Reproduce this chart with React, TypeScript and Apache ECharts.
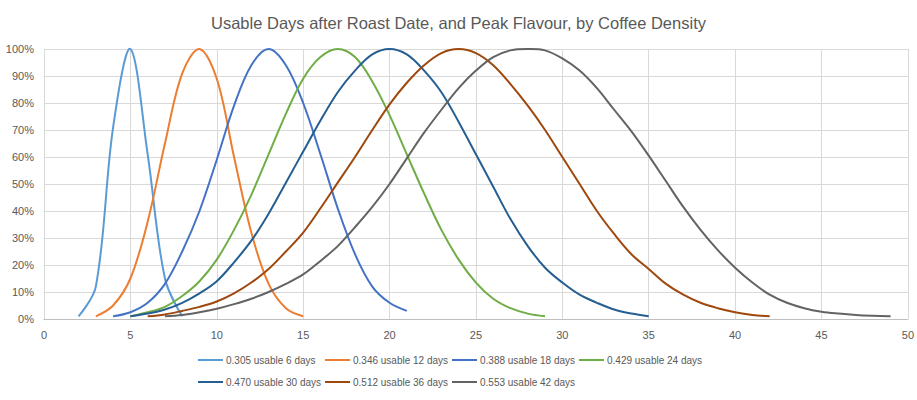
import React, { useEffect, useRef } from "react";
import * as echarts from "echarts";

// Series names (legend)
const seriesNames = [
  "0.305 usable 6 days",
  "0.346 usable 12 days",
  "0.388 usable 18 days",
  "0.429 usable 24 days",
  "0.470 usable 30 days",
  "0.512 usable 36 days",
  "0.553 usable 42 days",
];

// First day of each series (consecutive integer days follow)
const startDays = [2, 3, 4, 5, 5, 6, 7];

// Flavour values (%), one per day
const d305 = [1, 12, 71, 100, 61, 15, 1];
const d346 = [1, 5, 15, 36, 65, 91, 100, 89, 60, 32, 13, 4, 1];
const d388 = [1, 2.5, 6, 13, 25, 40, 59, 79, 94, 100, 94, 80, 61, 41, 24, 12, 6, 3];
const d429 = [1, 2.5, 4.5, 8.5, 14, 22, 33, 46, 61, 76, 89, 97, 100, 97, 88, 75.5, 61, 46.5, 33, 22, 13.5, 7.5, 4, 2, 1];
const d470 = [1, 2, 3.5, 6, 9.5, 14, 21, 29, 39, 50.5, 62, 73.5, 84, 92, 98, 100, 98, 92, 84, 73, 61, 49, 37, 27, 19, 13.5, 9, 6, 3.5, 2, 1];
const d512 = [
  1, 1.7, 3, 4.5, 6.5, 9.5, 13.5, 18.5, 25, 32, 41, 50.5, 60, 70, 79.5, 87.5, 94, 98.5, 100,
  98.5, 94, 87, 79, 70, 60, 50, 40, 31.5, 24, 18.5, 13, 9, 6, 4, 2.5, 1.5, 1,
];
const d553 = [
  1, 1.5, 2.5, 3.8, 5.5, 7.5, 10, 13, 16.5, 21.5, 27, 34, 41.5, 50, 59.5, 69, 77.5, 85.5, 92, 97, 99.5, 100,
  99.5, 96.5, 92, 85.5, 77.5, 69.5, 60.5, 51, 41.5, 33, 25.5, 19, 13.5, 9, 6, 4, 2.7, 2, 1.5, 1.2, 1,
];
const allValues = [d305, d346, d388, d429, d470, d512, d553];

// Axis ticks
const xMin = 0;
const xMax = 50;
const xStep = 5;
const yMin = 0;
const yMax = 100;
const yStep = 10;

const colors = ["#5B9BD5", "#ED7D31", "#4472C4", "#70AD47", "#255E91", "#9E480E", "#636363"];
const legendLefts = [198, 325, 452, 579, 198, 325, 452];
const legendTops = [355, 355, 355, 355, 377, 377, 377];

const FONT = "'Liberation Sans', Arial, sans-serif";
const TEXT = "#595959";

export default function App() {
  const ref = useRef<HTMLDivElement>(null);

  useEffect(() => {
    document.body.style.margin = "0";
    if (!ref.current) return;
    const chart = echarts.init(ref.current, undefined, { renderer: "svg" });

    const series = allValues.map((vals, i) => ({
      name: seriesNames[i],
      type: "custom",
      coordinateSystem: "cartesian2d",
      data: [[startDays[i], vals[0]]],
      encode: { x: 0, y: 1 },
      itemStyle: { color: colors[i] },
      silent: true,
      renderItem: (_params: any, api: any) => {
        const pts = vals.map((v, k) => api.coord([startDays[i] + k, v]));
        return {
          type: "polyline",
          shape: { points: pts, smooth: 0.35 },
          style: { stroke: colors[i], lineWidth: 2, fill: null },
        };
      },
    }));

    const legends = seriesNames.map((n, i) => ({
      data: [n],
      left: legendLefts[i],
      top: legendTops[i],
      padding: 0,
      icon: "rect",
      itemWidth: 25,
      itemHeight: 2,
      selectedMode: false,
      textStyle: { color: TEXT, fontSize: 10, fontFamily: FONT, padding: [0, 0, 0, -2] },
    }));

    chart.setOption({
      animation: false,
      color: colors,
      title: {
        text: "Usable Days after Roast Date, and Peak Flavour, by Coffee Density",
        left: "center",
        top: 14,
        padding: [0, 0, 0, 7],
        textStyle: { color: TEXT, fontSize: 16.5, fontWeight: "normal", fontFamily: FONT },
      },
      legend: legends,
      grid: { left: 44, right: 9, top: 49, bottom: 81, containLabel: false },
      xAxis: {
        type: "value",
        min: xMin,
        max: xMax,
        interval: xStep,
        axisLine: { show: true, lineStyle: { color: "#BFBFBF", width: 1 } },
        axisTick: { show: false },
        axisLabel: { color: TEXT, fontSize: 11, fontFamily: FONT, margin: 10 },
        splitLine: { show: true, lineStyle: { color: "#D9D9D9", width: 1 } },
      },
      yAxis: {
        type: "value",
        min: yMin,
        max: yMax,
        interval: yStep,
        axisLine: { show: false },
        axisTick: { show: false },
        axisLabel: { color: TEXT, fontSize: 11, fontFamily: FONT, margin: 10, formatter: "{value}%" },
        splitLine: { show: true, lineStyle: { color: "#D9D9D9", width: 1 } },
      },
      series,
    });

    return () => chart.dispose();
  }, []);

  return <div ref={ref} style={{ width: 917, height: 400 }} />;
}
